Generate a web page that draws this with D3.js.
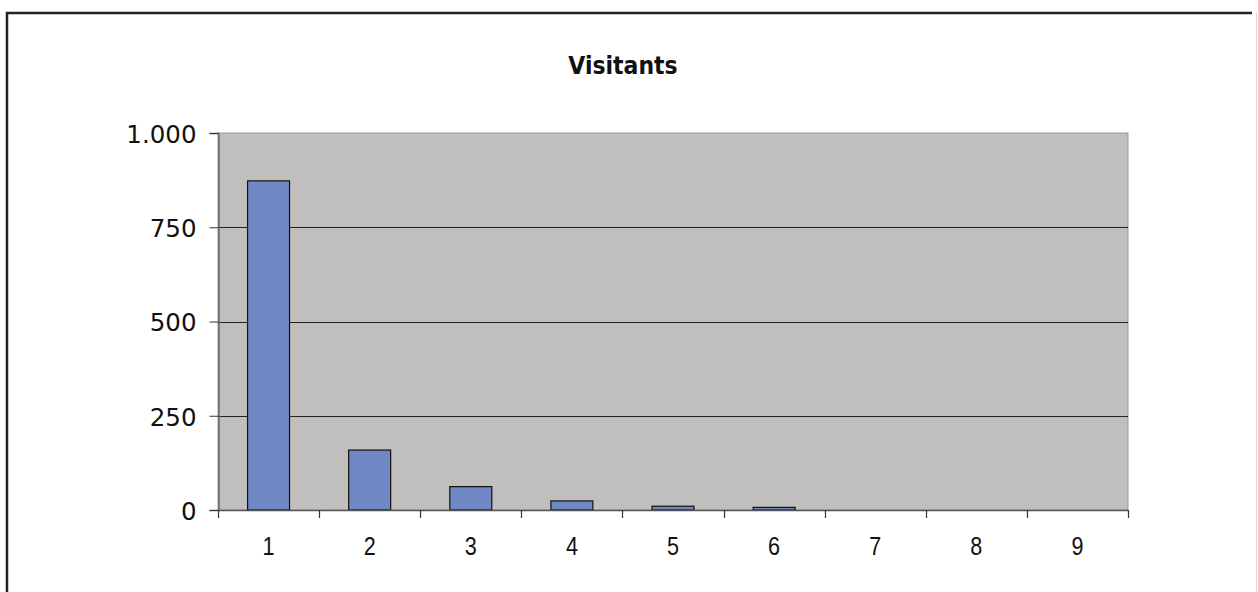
<!DOCTYPE html>
<html>
<head>
<meta charset="utf-8">
<script src="https://cdn.jsdelivr.net/npm/d3@7"></script>
<style>
html,body{margin:0;padding:0;background:#fff;}
svg{display:block;}
</style>
</head>
<body>
<svg id="chart" width="1258" height="592"></svg>
<script>
const title = "Visitants";
const categories = ["1","2","3","4","5","6","7","8","9"];
const values = [873, 159, 62, 24, 10, 7, 0, 0, 0];
const yTicks = [0, 250, 500, 750, 1000];
const yTickLabels = ["0", "250", "500", "750", "1.000"];

const svg = d3.select("#chart");
const W = 1258, H = 592;
const plot = {left: 218, top: 133, right: 1128, bottom: 510};

// outer chart border
svg.append("path")
  .attr("d", `M7,${H} L7,13 L1252,13`)
  .attr("fill", "none").attr("stroke", "#222").attr("stroke-width", 2.5);
svg.append("line").attr("x1", 1256.5).attr("x2", 1256.5).attr("y1", 13).attr("y2", H)
  .attr("stroke", "#d8d8d8").attr("stroke-width", 1);

const x = d3.scaleBand().domain(categories).range([plot.left, plot.right]).paddingInner(0.585).paddingOuter(0.2925);
const xOuter = d3.scaleBand().domain(categories).range([plot.left, plot.right]);
const y = d3.scaleLinear().domain([0, 1000]).range([plot.bottom, plot.top]);

// plot background
svg.append("rect").attr("x", plot.left).attr("y", plot.top)
  .attr("width", plot.right - plot.left).attr("height", plot.bottom - plot.top)
  .attr("fill", "#c0bfbd").attr("stroke", "#999").attr("stroke-width", 1);

// gridlines
svg.append("g").selectAll("line").data(yTicks.filter(d => d > 0 && d < 1000)).join("line")
  .attr("x1", plot.left).attr("x2", plot.right)
  .attr("y1", d => Math.round(y(d)) + 0.5).attr("y2", d => Math.round(y(d)) + 0.5)
  .attr("stroke", "#222").attr("stroke-width", 1);

// bars
svg.append("g").selectAll("rect").data(values).join("rect")
  .attr("x", (d, i) => x(categories[i]))
  .attr("y", d => y(d))
  .attr("width", x.bandwidth())
  .attr("height", d => y(0) - y(d))
  .attr("fill", "#7088c4")
  .attr("stroke", d => d > 0 ? "#111" : "none")
  .attr("stroke-width", 1.2);

// y axis
const yAxis = d3.axisLeft(y).tickValues(yTicks).tickSize(9).tickPadding(13)
  .tickFormat((d, i) => yTickLabels[i]);
const gy = svg.append("g").attr("transform", `translate(${plot.left + 0.5},0)`).call(yAxis);
gy.select(".domain").attr("stroke", "#666").attr("stroke-width", 1.5);
gy.selectAll(".tick line").attr("stroke", "#333");
gy.selectAll(".tick text").attr("font-family", "DejaVu Sans, Verdana, sans-serif")
  .attr("font-size", 24.5).attr("fill", "#111").attr("dy", "0.38em");

// x axis with ticks at category boundaries
svg.append("line").attr("x1", plot.left).attr("x2", plot.right)
  .attr("y1", plot.bottom + 0.5).attr("y2", plot.bottom + 0.5)
  .attr("stroke", "#555").attr("stroke-width", 1.5);
const boundaries = categories.map(c => xOuter(c)).concat([plot.right]);
svg.append("g").selectAll("line").data(boundaries).join("line")
  .attr("x1", d => Math.round(d) + 0.5).attr("x2", d => Math.round(d) + 0.5)
  .attr("y1", plot.bottom).attr("y2", plot.bottom + 8)
  .attr("stroke", "#333").attr("stroke-width", 1.2);
svg.append("g").selectAll("text").data(categories).join("text")
  .attr("transform", d => `translate(${xOuter(d) + xOuter.bandwidth() / 2},555) scale(0.9,1.06)`)
  .attr("text-anchor", "middle")
  .attr("font-family", "Liberation Sans, Arial, sans-serif")
  .attr("font-size", 24).attr("fill", "#111")
  .text(d => d);

// title
svg.append("text").attr("transform", "translate(623,74) scale(1,1.12)").attr("text-anchor", "middle")
  .attr("font-family", "DejaVu Sans, Verdana, sans-serif").attr("font-weight", "bold")
  .attr("font-size", 22).attr("fill", "#111").text(title);
</script>
</body>
</html>
